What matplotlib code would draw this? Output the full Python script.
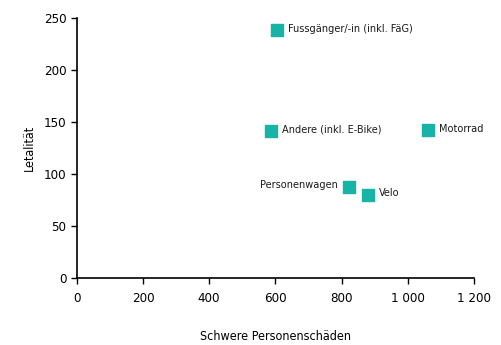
import matplotlib.pyplot as plt

labels = ["Fussgänger/-in (inkl. FäG)", "Andere (inkl. E-Bike)", "Motorrad", "Personenwagen", "Velo"]
schwere = [604, 586, 1061, 822, 880]
letalitaet = [238, 141, 142, 88, 80]

plt.rcParams['font.family'] = ['DejaVu Sans']
plt.rcParams['font.stretch'] = 'condensed'
plt.rcParams['font.size'] = 9

fig = plt.figure(figsize=(5.02, 3.45), dpi=100)
ax = fig.add_axes([0.153, 0.194, 0.791, 0.754])

ax.scatter(schwere, letalitaet, marker='s', s=70, color='#16b3a6', zorder=3)

for name, x, y in zip(labels, schwere, letalitaet):
    if name == "Personenwagen":
        ax.annotate(name, (x, y), xytext=(-8, 1), textcoords='offset points',
                    ha='right', va='center', fontsize=7.8, color='#1a1a1a')
    else:
        ax.annotate(name, (x, y), xytext=(8, 1), textcoords='offset points',
                    ha='left', va='center', fontsize=7.8, color='#1a1a1a')

ax.set_xlim(0, 1200)
ax.set_ylim(0, 250)
ax.set_xticks([0, 200, 400, 600, 800, 1000, 1200])
ax.set_xticklabels(["0", "200", "400", "600", "800", "1 000", "1 200"])
ax.set_yticks([0, 50, 100, 150, 200, 250])

for s in ['top', 'right']:
    ax.spines[s].set_visible(False)
for s in ['left', 'bottom']:
    ax.spines[s].set_linewidth(1.2)
    ax.spines[s].set_color('black')

ax.tick_params(axis='both', direction='out', length=4, width=1, labelsize=9.5, colors='black')
ax.tick_params(axis='x', pad=6)
ax.set_xlabel("Schwere Personenschäden", fontsize=9, labelpad=18)
ax.set_ylabel("Letalität", fontsize=9, labelpad=6)

fig.savefig("out.png", dpi=100)
